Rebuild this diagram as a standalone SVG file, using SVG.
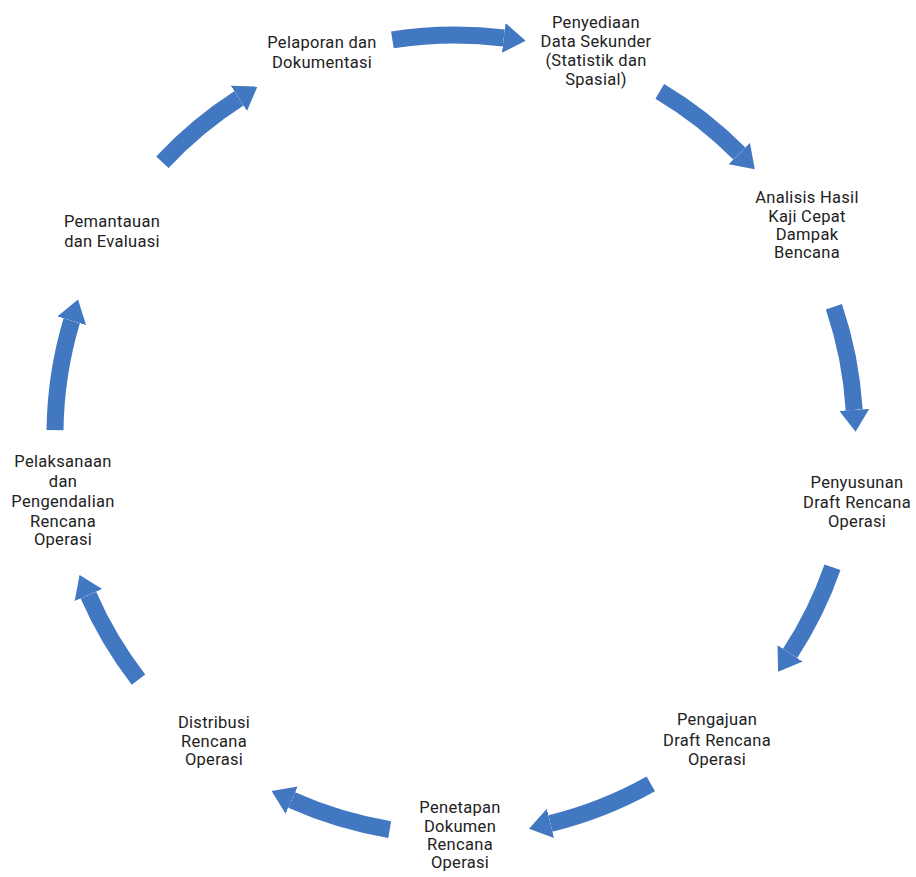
<svg xmlns="http://www.w3.org/2000/svg" width="916" height="877" viewBox="0 0 916 877">
<style>
.lbl{font-family:Roboto,"Liberation Sans",sans-serif;font-size:16.5px;letter-spacing:0.3px;fill:#222;text-anchor:middle}
.arr{fill:none;stroke:#4277c2;stroke-width:17;stroke-linecap:butt;marker-end:url(#head)}
</style>
<defs>
<marker id="head" markerUnits="userSpaceOnUse" viewBox="0 -16 24 32" markerWidth="24" markerHeight="32" refX="0" refY="0" orient="auto">
<path d="M0,-15 L22,0 L0,15 Z" fill="#4277c2"/>
</marker>
</defs>
<rect width="916" height="877" fill="#fff"/>
<g id="connectors">
<path class="arr" d="M392.4,39.9 A400,400 0 0 1 503.8,38.0"/>
<path class="arr" d="M659.8,91.4 A400,400 0 0 1 739.3,153.6"/>
<path class="arr" d="M833.9,306.8 A400,400 0 0 1 854.2,409.9"/>
<path class="arr" d="M832.5,567.2 A400,400 0 0 1 790.1,653.4"/>
<path class="arr" d="M650.8,783.8 A400,400 0 0 1 550.4,823.4"/>
<path class="arr" d="M389.7,829.6 A400,400 0 0 1 291.7,800.1"/>
<path class="arr" d="M138.5,679.6 A400,400 0 0 1 88.4,595.1"/>
<path class="arr" d="M55.0,430.1 A400,400 0 0 1 71.7,320.7"/>
<path class="arr" d="M162.4,162.2 A400,400 0 0 1 238.9,98.4"/>
</g>
<g id="n-pelaporan"><text class="lbl"><tspan x="322" y="48">Pelaporan dan</tspan><tspan x="322" y="68">Dokumentasi</tspan></text></g>
<g id="n-penyediaan"><text class="lbl"><tspan x="596" y="28">Penyediaan</tspan><tspan x="596" y="47">Data Sekunder</tspan><tspan x="596" y="66">(Statistik dan</tspan><tspan x="596" y="85">Spasial)</tspan></text></g>
<g id="n-analisis"><text class="lbl"><tspan x="807" y="203">Analisis Hasil</tspan><tspan x="807" y="222">Kaji Cepat</tspan><tspan x="807" y="240">Dampak</tspan><tspan x="807" y="258">Bencana</tspan></text></g>
<g id="n-penyusunan"><text class="lbl"><tspan x="857" y="488">Penyusunan</tspan><tspan x="857" y="508">Draft Rencana</tspan><tspan x="857" y="527">Operasi</tspan></text></g>
<g id="n-pengajuan"><text class="lbl"><tspan x="717" y="725">Pengajuan</tspan><tspan x="717" y="746">Draft Rencana</tspan><tspan x="717" y="765">Operasi</tspan></text></g>
<g id="n-penetapan"><text class="lbl"><tspan x="460" y="813">Penetapan</tspan><tspan x="460" y="832">Dokumen</tspan><tspan x="460" y="850">Rencana</tspan><tspan x="460" y="868">Operasi</tspan></text></g>
<g id="n-distribusi"><text class="lbl"><tspan x="214" y="728">Distribusi</tspan><tspan x="214" y="747">Rencana</tspan><tspan x="214" y="765">Operasi</tspan></text></g>
<g id="n-pemantauan"><text class="lbl"><tspan x="112" y="227">Pemantauan</tspan><tspan x="112" y="247">dan Evaluasi</tspan></text></g>
<g id="n-pelaksanaan"><text class="lbl"><tspan x="63" y="467">Pelaksanaan</tspan><tspan x="63" y="487">dan</tspan><tspan x="63" y="507">Pengendalian</tspan><tspan x="63" y="527">Rencana</tspan><tspan x="63" y="545">Operasi</tspan></text></g>
</svg>
